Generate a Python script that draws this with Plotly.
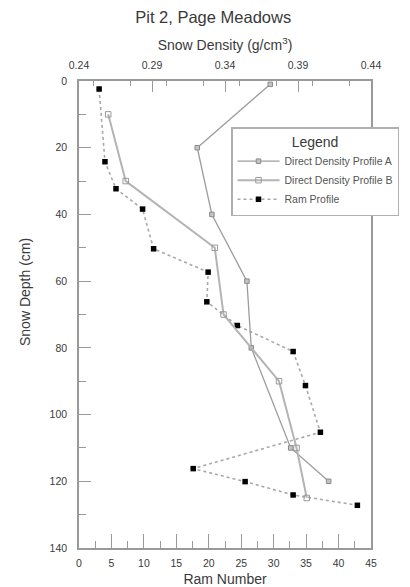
import plotly.graph_objects as go

# Ram penetrometer profile: depth (cm) vs ram number
ram_depth = [2.4, 24.2, 32.3, 38.4, 50.3, 57.3, 66.2, 73.3, 81.1, 91.3, 105.3, 116.2, 120.1, 124.1, 127.2]
ram_number = [3.1, 4.0, 5.7, 9.8, 11.5, 19.9, 19.7, 24.4, 33.0, 34.9, 37.2, 17.6, 25.6, 33.0, 42.9]

# Direct density profile A: depth (cm) vs density (g/cm3)
depth_a = [1, 20, 40, 60, 80, 110, 120]
density_a = [0.371, 0.321, 0.331, 0.355, 0.358, 0.385, 0.411]

# Direct density profile B
depth_b = [10, 30, 50, 70, 90, 110, 125]
density_b = [0.260, 0.272, 0.333, 0.339, 0.377, 0.389, 0.396]

TEXT = "#3a3a3a"
AXIS = "#9a9a9a"
FONT = "Liberation Sans, Arial, sans-serif"

fig = go.Figure()

fig.add_trace(go.Scatter(
    x=density_a, y=depth_a, xaxis="x2", yaxis="y",
    mode="lines+markers", name="Direct Density Profile A",
    line=dict(color="#9c9c9c", width=1.3),
    marker=dict(symbol="square", size=4.5, color="#c4c4c4",
                line=dict(color="#8a8a8a", width=1)),
))
fig.add_trace(go.Scatter(
    x=density_b, y=depth_b, xaxis="x2", yaxis="y",
    mode="lines+markers", name="Direct Density Profile B",
    line=dict(color="#b4b4b4", width=2),
    marker=dict(symbol="square-open", size=5.5, color="#9a9a9a",
                line=dict(width=1)),
))
fig.add_trace(go.Scatter(
    x=ram_number, y=ram_depth, xaxis="x", yaxis="y",
    mode="lines+markers", name="Ram Profile",
    line=dict(color="#a8a8a8", width=1.6, dash="3px,3px"),
    marker=dict(symbol="square", size=5.5, color="#000000"),
))

tick_font = dict(family=FONT, size=10.5, color=TEXT)
title_font = dict(family=FONT, size=14, color=TEXT)

fig.update_layout(
    width=410, height=587,
    margin=dict(l=79, r=39, t=81, b=39, autoexpand=False),
    paper_bgcolor="white", plot_bgcolor="white",
    font=dict(family=FONT, color=TEXT),
    title=dict(text="Pit 2, Page Meadows", x=0.52, xanchor="center",
               y=1 - 17 / 587, yanchor="middle",
               font=dict(family=FONT, size=16.5, color=TEXT)),
    xaxis=dict(
        range=[0, 45], tick0=0, dtick=5,
        ticks="inside", ticklen=14, tickwidth=1.2, tickcolor=AXIS,
        minor=dict(dtick=2.5, ticks="inside", ticklen=7, tickwidth=1.2, tickcolor=AXIS),
        showline=True, linecolor=AXIS, linewidth=1.5,
        showgrid=False, zeroline=False,
        tickfont=tick_font, ticklabelstandoff=5,
        title=dict(text="Ram Number", font=title_font, standoff=6),
    ),
    xaxis2=dict(
        overlaying="x", side="top", anchor="y",
        range=[0.24, 0.44], tick0=0.24, dtick=0.05, tickformat=".2f",
        ticks="inside", ticklen=11, tickwidth=1.2, tickcolor=AXIS,
        minor=dict(dtick=0.025, ticks="inside", ticklen=5, tickwidth=1.2, tickcolor=AXIS),
        showline=True, linecolor=AXIS, linewidth=1.5,
        showgrid=False, zeroline=False,
        tickfont=tick_font, ticklabelstandoff=6,
        title=dict(text="Snow Density (g/cm<sup>3</sup>)", font=title_font, standoff=5),
    ),
    yaxis=dict(
        range=[140, 0], tick0=0, dtick=20,
        ticks="inside", ticklen=12, tickwidth=1.2, tickcolor=AXIS,
        minor=dict(dtick=10, ticks="inside", ticklen=7, tickwidth=1.2, tickcolor=AXIS),
        showline=True, mirror=True, linecolor=AXIS, linewidth=1.5,
        showgrid=False, zeroline=False,
        tickfont=tick_font, ticklabelstandoff=8,
    ),
    legend=dict(
        x=(231 - 79) / 292, y=(548 - 127) / 467, xanchor="left", yanchor="top",
        bgcolor="white", bordercolor="#b0b0b0", borderwidth=1.5,
        font=dict(family=FONT, size=10.5, color="#555555"),
        title=dict(text="Legend", side="top center",
                   font=dict(family=FONT, size=14, color=TEXT)),
        itemwidth=42,
        tracegroupgap=0,
    ),
    showlegend=True,
)

fig.add_annotation(
    text="Snow Depth (cm)", textangle=-90,
    xref="paper", yref="paper", x=(25 - 79) / 292, y=(548 - 292) / 467,
    xanchor="center", yanchor="middle", showarrow=False,
    font=title_font,
)

fig.write_html("out.html")
